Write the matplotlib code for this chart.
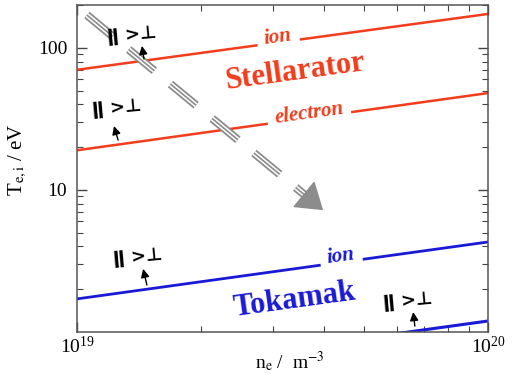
import numpy as np
import matplotlib
matplotlib.use("Agg")
import matplotlib.pyplot as plt
from matplotlib.ticker import NullFormatter

# --- data (density in m^-3, temperature in eV) ---
density = [1e19, 1e20]
stell_ion = [70, 173]
stell_electron = [19, 48]
tok_ion = [1.71, 4.3]
tok_electron = [0.476, 1.195]

# gray trend arrow (density, temperature)
arrow_start = (1.057e19, 170)
arrow_tip = (3.97e19, 7.2)

RED = '#f23c1c'
BLUE = '#1a1ad6'
GRAY = '#8c8c8c'

plt.rcParams['font.family'] = ['Liberation Serif', 'DejaVu Serif']
plt.rcParams['mathtext.fontset'] = 'stix'
plt.rcParams['lines.scale_dashes'] = False

fig = plt.figure(figsize=(5.12, 3.74), dpi=100)
ax = fig.add_axes([77 / 512, 42 / 374, 411 / 512, 327 / 374])
ax.set_xscale('log')
ax.set_yscale('log')
ax.set_xlim(1e19, 1e20)
ax.set_ylim(1, 200)

# --- lines ---
ax.plot(density, stell_ion, color=RED, lw=1.8, solid_capstyle='butt')
ax.plot(density, stell_electron, color=RED, lw=1.8, solid_capstyle='butt')
ax.plot(density, tok_ion, color=BLUE, lw=2.0, solid_capstyle='butt')
ax.plot(density, tok_electron, color=BLUE, lw=2.2, solid_capstyle='butt')

# --- gray dashed "triple stripe" arrow ---
tr = ax.transData
p0 = np.array(tr.transform(arrow_start))
p1 = np.array(tr.transform(arrow_tip))
u = (p1 - p0) / np.hypot(*(p1 - p0))
shaft_end = tr.inverted().transform(p1 - u * 20)
xs = [arrow_start[0], shaft_end[0]]
ys = [arrow_start[1], shaft_end[1]]
dash = (0, (24, 15))
ax.plot(xs, ys, color=GRAY, lw=6.0, linestyle=dash, dash_capstyle='butt', zorder=3)
ax.plot(xs, ys, color='white', lw=3.4, linestyle=dash, dash_capstyle='butt', zorder=3)
ax.plot(xs, ys, color=GRAY, lw=1.2, linestyle=dash, dash_capstyle='butt', zorder=3)
ax.annotate('', xy=arrow_tip, xytext=tuple(tr.inverted().transform(p1 - u * 22)),
            arrowprops=dict(arrowstyle='-|>,head_length=0.42,head_width=0.28',
                            mutation_scale=40, color=GRAY, lw=1,
                            shrinkA=0, shrinkB=0), zorder=3)

# --- text labels ---
rot = 7.8
box = dict(boxstyle='square,pad=0.35', fc='white', ec='none')
ax.text(0.489, 0.902, 'ion', transform=ax.transAxes, color=RED, fontsize=15,
        fontweight='bold', fontstyle='italic', rotation=rot, ha='center', va='center', bbox=box)
ax.text(0.530, 0.795, 'Stellarator', transform=ax.transAxes, color=RED, fontsize=22,
        fontweight='bold', rotation=rot, ha='center', va='center')
ax.text(0.564, 0.670, 'electron', transform=ax.transAxes, color=RED, fontsize=15,
        fontweight='bold', fontstyle='italic', rotation=rot, ha='center', va='center', bbox=box)
ax.text(0.530, 0.098, 'Tokamak', transform=ax.transAxes, color=BLUE, fontsize=22,
        fontweight='bold', rotation=rot, ha='center', va='center')
ax.text(0.642, 0.232, 'ion', transform=ax.transAxes, color=BLUE, fontsize=15,
        fontweight='bold', fontstyle='italic', rotation=rot, ha='center', va='center', bbox=box)

# parallel > perpendicular markers with small arrows
marks = [((0.134, 0.908), (0.158, 0.875), (0.163, 0.835)),
         ((0.097, 0.685), (0.090, 0.630), (0.100, 0.587)),
         ((0.148, 0.229), (0.161, 0.193), (0.170, 0.144)),
         ((0.805, 0.095), (0.818, 0.061), (0.822, 0.018))]
for txt_pos, head, tail in marks:
    ax.text(*txt_pos, '\u01c1 >\u22a5', transform=ax.transAxes, fontsize=13,
            family=['DejaVu Sans'], fontweight='bold', rotation=5,
            ha='center', va='center', zorder=4)
    ax.annotate('', xy=head, xytext=tail, xycoords='axes fraction', textcoords='axes fraction',
                arrowprops=dict(arrowstyle='-|>,head_length=0.5,head_width=0.25',
                                mutation_scale=10, color='black', lw=1,
                                shrinkA=0, shrinkB=0), zorder=4)

# --- axes styling ---
ax.set_yticks([10, 100])
ax.set_yticklabels(['10', '100'])
ax.xaxis.set_minor_formatter(NullFormatter())
ax.yaxis.set_minor_formatter(NullFormatter())
ax.tick_params(which='both', direction='in', top=True, right=True, colors='#444444',
               labelcolor='black', labelsize=14)
ax.tick_params(which='major', length=7, width=1)
ax.tick_params(which='minor', length=4, width=0.8)
ax.tick_params(axis='x', pad=3)
ax.tick_params(axis='y', pad=7)
for sp in ax.spines.values():
    sp.set_color('#555555')
    sp.set_linewidth(1.1)

ax.set_ylabel(r'T$_{\rm e,i}$ / eV', fontsize=15)
ax.yaxis.set_label_coords(-0.118, 0.526)
ax.set_xlabel(r'n$_{\rm e}$ /  m$^{-3}$', fontsize=14)
ax.xaxis.set_label_coords(0.518, -0.052)

fig.savefig('out.png', dpi=100)
